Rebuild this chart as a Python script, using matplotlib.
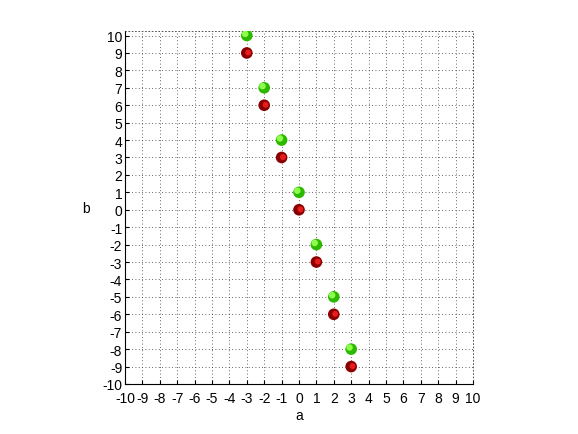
import matplotlib
matplotlib.use('Agg')
import matplotlib.pyplot as plt
from matplotlib.transforms import offset_copy

plt.rcParams['font.family'] = ['Liberation Sans', 'DejaVu Sans']
plt.rcParams['axes.unicode_minus'] = False

# data
a_green = [-3, -2, -1, 0, 1, 2, 3]
b_green = [10, 7, 4, 1, -2, -5, -8]
a_red = [-3, -2, -1, 0, 1, 2, 3]
b_red = [9, 6, 3, 0, -3, -6, -9]
ticks = list(range(-10, 11))

fig = plt.figure(figsize=(5.78, 4.35), dpi=100)
ax = fig.add_axes([0.2163, 0.115, 0.602, 0.811])

hl_green = offset_copy(ax.transData, fig=fig, x=-1.2, y=1.2, units='points')
hl_red = offset_copy(ax.transData, fig=fig, x=1.0, y=0.3, units='points')

# spheres: base plus a small highlight
ax.scatter(a_green, b_green, s=70, color='#2db800', edgecolors='none', zorder=3)
ax.scatter(a_green, b_green, s=22, color='#8cff4a', edgecolors='none', zorder=4,
           transform=hl_green)
ax.scatter(a_red, b_red, s=70, color='#8a0000', edgecolors='none', zorder=3)
ax.scatter(a_red, b_red, s=18, color='#e81c1c', edgecolors='none', zorder=4,
           transform=hl_red)

ax.set_xlim(-10, 10)
ax.set_ylim(-10, 10.25)
ax.set_xticks(ticks)
ax.set_yticks(ticks)
ax.tick_params(direction='in', length=3, width=0.8, labelsize=10, pad=2)
ax.tick_params(axis='x', pad=5)
ax.grid(True, linestyle=(0, (1, 3)), color='#333333', linewidth=0.6)

for side in ['top', 'right']:
    ax.spines[side].set_linestyle((0, (1, 3)))
    ax.spines[side].set_linewidth(0.6)
    ax.spines[side].set_color('#333333')
ax.spines['left'].set_linewidth(0.8)
ax.spines['bottom'].set_linewidth(0.8)

ax.set_xlabel('a', fontsize=10, labelpad=2)
ax.set_ylabel('b', fontsize=10, rotation=0, labelpad=12, va='center')

plt.savefig('out.png', dpi=100)
